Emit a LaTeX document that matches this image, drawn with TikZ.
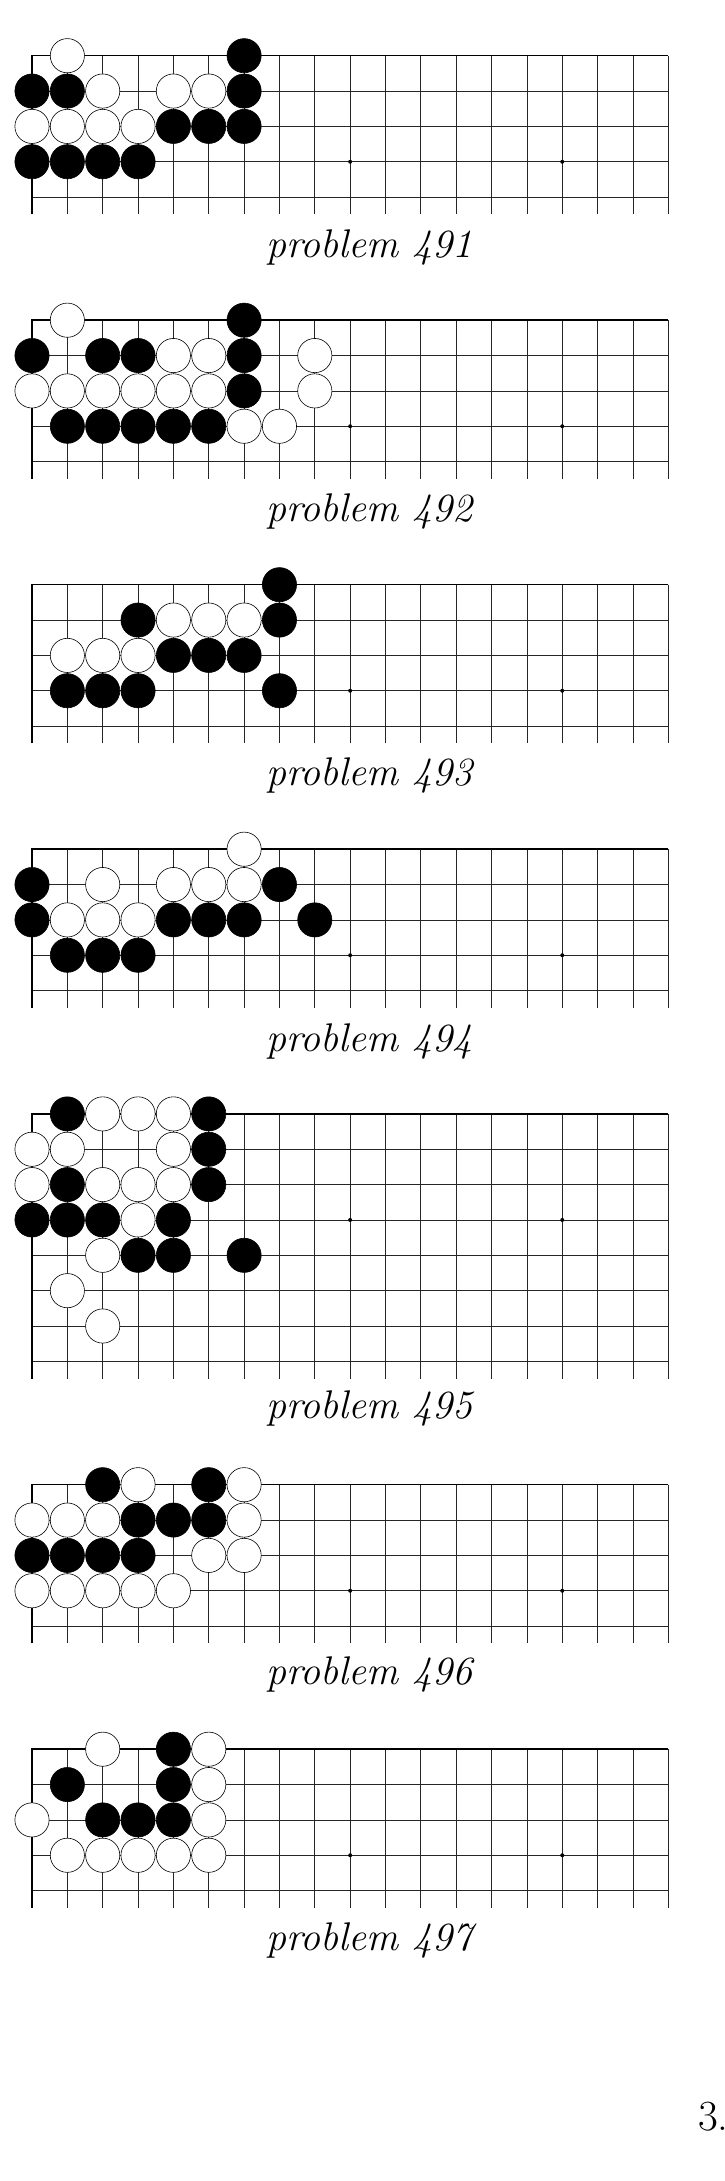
\documentclass[tikz,border=0pt]{standalone}
\begin{document}
\tikzset{
  gridline/.style={line width=0.8pt, black!85},
  edgeline/.style={line width=1.5pt, black},
  bstone/.style={circle, fill=black, draw=black, line width=0.6pt, minimum size=34.2pt, inner sep=0pt},
  wstone/.style={circle, fill=white, draw=black, line width=0.6pt, minimum size=34.2pt, inner sep=0pt},
  hoshi/.style={circle, fill=black, inner sep=0pt, minimum size=4pt},
  caption/.style={font=\fontsize{40}{46}\selectfont\itshape, anchor=base, inner sep=0pt},
}
% #1 name, #2 top y (px), #3 number of rows, #4 black stones, #5 white stones
\newcommand\goboard[5]{%
  \begin{scope}[shift={(32,#2)}, x=35.35pt, y=-35.35pt]
    \pgfmathtruncatemacro\lastrow{#3-1}
    \foreach \c in {1,...,17} \draw[gridline] (\c,0) -- (\c,\lastrow+0.49);
    \foreach \r in {1,...,\lastrow} \draw[gridline] (0,\r) -- (18,\r);
    \draw[edgeline] (0,\lastrow+0.49) -- (0,0) -- (18,0);
    \draw[gridline] (18,0) -- (18,\lastrow+0.49);
    \foreach \c in {3,9,15} \node[hoshi] (#1h\c) at (\c,3) {};
    \foreach \c/\r in {#4} \node[bstone] (#1b\c-\r) at (\c,\r) {};
    \foreach \c/\r in {#5} \node[wstone] (#1w\c-\r) at (\c,\r) {};
  \end{scope}}
\begin{tikzpicture}[x=1pt, y=-1pt]
\useasboundingbox (0,0) rectangle (724,2181);
\fill[white] (0,0) rectangle (724,2181);

\goboard{p491}{55.7}{5}
  {6/0, 0/1,1/1,6/1, 4/2,5/2,6/2, 0/3,1/3,2/3,3/3}
  {1/0, 2/1,4/1,5/1, 0/2,1/2,2/2,3/2}
\node[caption] (cap491) at (369.5,257.7) {problem 491};

\goboard{p492}{320.2}{5}
  {6/0, 0/1,2/1,3/1,6/1, 6/2, 1/3,2/3,3/3,4/3,5/3}
  {1/0, 4/1,5/1,8/1, 0/2,1/2,2/2,3/2,4/2,5/2,8/2, 6/3,7/3}
\node[caption] (cap492) at (369.5,521) {problem 492};

\goboard{p493}{584.7}{5}
  {7/0, 3/1,7/1, 4/2,5/2,6/2, 1/3,2/3,3/3,7/3}
  {4/1,5/1,6/1, 1/2,2/2,3/2}
\node[caption] (cap493) at (369.5,785) {problem 493};

\goboard{p494}{849.2}{5}
  {0/1,7/1, 0/2,4/2,5/2,6/2,8/2, 1/3,2/3,3/3}
  {6/0, 2/1,4/1,5/1,6/1, 1/2,2/2,3/2}
\node[caption] (cap494) at (369.5,1051) {problem 494};

\goboard{p495}{1113.9}{8}
  {1/0,5/0, 5/1, 1/2,5/2, 0/3,1/3,2/3,4/3, 3/4,4/4,6/4}
  {2/0,3/0,4/0, 0/1,1/1,4/1, 0/2,2/2,3/2,4/2, 3/3, 2/4, 1/5, 2/6}
\node[caption] (cap495) at (369.5,1418.3) {problem 495};

\goboard{p496}{1484.7}{5}
  {2/0,5/0, 3/1,4/1,5/1, 0/2,1/2,2/2,3/2}
  {3/0,6/0, 0/1,1/1,2/1,6/1, 5/2,6/2, 0/3,1/3,2/3,3/3,4/3}
\node[caption] (cap496) at (369.5,1684.3) {problem 496};

\goboard{p497}{1749.2}{5}
  {4/0, 1/1,4/1, 2/2,3/2,4/2}
  {2/0,5/0, 5/1, 0/2,5/2, 1/3,2/3,3/3,4/3,5/3}
\node[caption] (cap497) at (369.5,1950) {problem 497};

\node[font=\fontsize{43}{50}\selectfont, anchor=base west, inner sep=0pt] (pagenum) at (698,2130) {3.};
\end{tikzpicture}
\end{document}
